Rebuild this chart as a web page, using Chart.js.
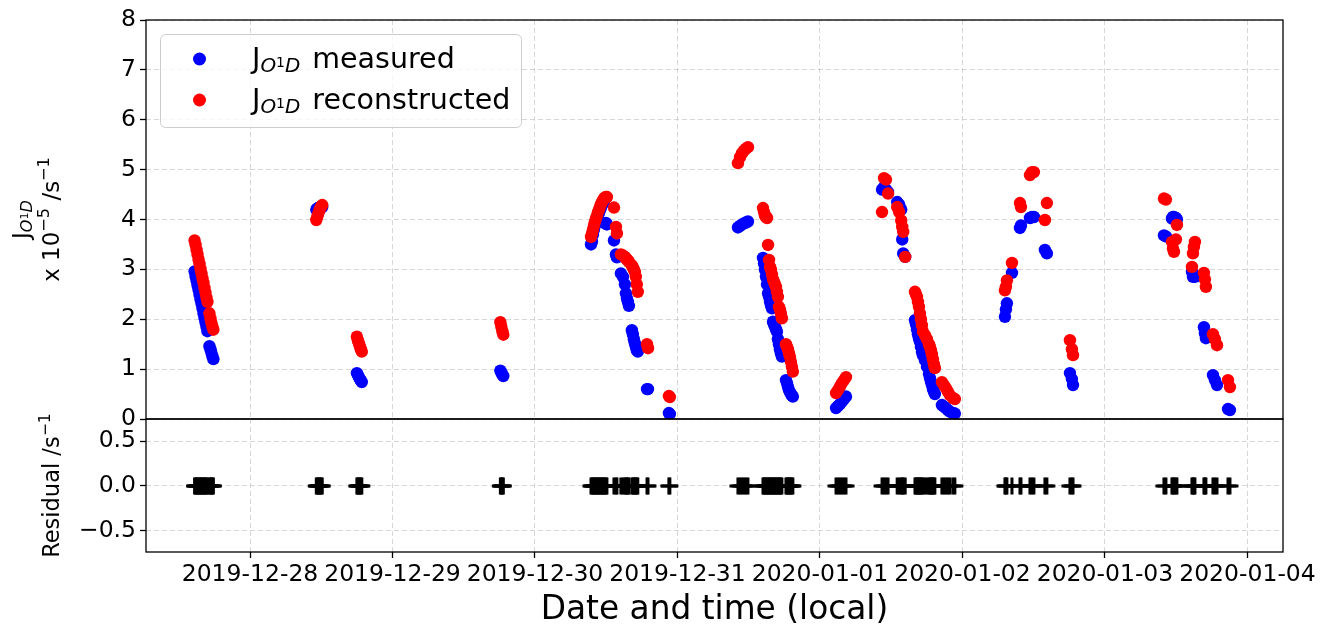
<!DOCTYPE html>
<html>
<head>
<meta charset="utf-8">
<script src="https://cdn.jsdelivr.net/npm/chart.js@4/dist/chart.umd.min.js"></script>
<style>
  html, body { margin: 0; padding: 0; background: #fff; }
  #wrap { position: relative; width: 1322px; height: 630px; overflow: hidden; background: #fff; }
  #wrap canvas { position: absolute; left: 0; }
  #jChart { top: 0; }
  #resChart { top: 400px; }
</style>
</head>
<body>
<div id="wrap">
  <canvas id="jChart" width="1322" height="445"></canvas>
  <canvas id="resChart" width="1322" height="230"></canvas>
</div>
<script>
// Sample times (local) with measured and reconstructed J(O1D), in units of 1e-5 s^-1
const sampleTimes = [
  // 27 Dec
  '2019-12-27 14:40', '2019-12-27 14:50', '2019-12-27 15:00', '2019-12-27 15:10', '2019-12-27 15:20',
  '2019-12-27 15:30', '2019-12-27 15:40', '2019-12-27 15:50', '2019-12-27 16:00', '2019-12-27 16:10',
  '2019-12-27 16:20', '2019-12-27 16:30', '2019-12-27 16:40', '2019-12-27 16:50', '2019-12-27 17:10',
  '2019-12-27 17:20', '2019-12-27 17:30', '2019-12-27 17:40', '2019-12-27 17:50',
  // 28 Dec
  '2019-12-28 11:10', '2019-12-28 11:20', '2019-12-28 11:30', '2019-12-28 11:40', '2019-12-28 11:50',
  '2019-12-28 12:00', '2019-12-28 12:10',
  '2019-12-28 18:00', '2019-12-28 18:10', '2019-12-28 18:20', '2019-12-28 18:30', '2019-12-28 18:40',
  '2019-12-28 18:50',
  // 29 Dec
  '2019-12-29 18:10', '2019-12-29 18:20', '2019-12-29 18:30', '2019-12-29 18:40',
  // 30 Dec
  '2019-12-30 09:26', '2019-12-30 09:36', '2019-12-30 09:46', '2019-12-30 09:56', '2019-12-30 10:06',
  '2019-12-30 10:16', '2019-12-30 10:26', '2019-12-30 10:37', '2019-12-30 10:47', '2019-12-30 10:57',
  '2019-12-30 11:07', '2019-12-30 11:17', '2019-12-30 11:27', '2019-12-30 11:37', '2019-12-30 11:47',
  '2019-12-30 11:57', '2019-12-30 12:07',
  '2019-12-30 13:18', '2019-12-30 13:38', '2019-12-30 13:48',
  '2019-12-30 14:28', '2019-12-30 14:49', '2019-12-30 15:09', '2019-12-30 15:19', '2019-12-30 15:29',
  '2019-12-30 15:39', '2019-12-30 15:49',
  '2019-12-30 16:19', '2019-12-30 16:29', '2019-12-30 16:39', '2019-12-30 16:49', '2019-12-30 16:59',
  '2019-12-30 17:09', '2019-12-30 17:19',
  '2019-12-30 18:52', '2019-12-30 19:02',
  '2019-12-30 22:33', '2019-12-30 22:43',
  // 31 Dec
  '2019-12-31 10:11', '2019-12-31 10:32', '2019-12-31 10:52', '2019-12-31 11:12', '2019-12-31 11:32',
  '2019-12-31 11:52',
  '2019-12-31 14:24', '2019-12-31 14:34', '2019-12-31 14:44', '2019-12-31 14:54', '2019-12-31 15:05',
  '2019-12-31 15:15', '2019-12-31 15:25', '2019-12-31 15:35', '2019-12-31 15:45', '2019-12-31 15:55',
  '2019-12-31 16:05', '2019-12-31 16:15', '2019-12-31 16:25', '2019-12-31 16:35', '2019-12-31 16:45',
  '2019-12-31 16:55', '2019-12-31 17:05', '2019-12-31 17:15', '2019-12-31 17:25', '2019-12-31 17:35',
  '2019-12-31 18:16', '2019-12-31 18:26', '2019-12-31 18:36', '2019-12-31 18:46', '2019-12-31 18:56',
  '2019-12-31 19:06', '2019-12-31 19:16', '2019-12-31 19:26',
  // 1 Jan
  '2020-01-01 02:42', '2020-01-01 03:02', '2020-01-01 03:22', '2020-01-01 03:42', '2020-01-01 04:03',
  '2020-01-01 04:23',
  '2020-01-01 10:27', '2020-01-01 10:47', '2020-01-01 11:07', '2020-01-01 11:28', '2020-01-01 13:00',
  '2020-01-01 13:20', '2020-01-01 13:41', '2020-01-01 13:51', '2020-01-01 14:01', '2020-01-01 14:21',
  '2020-01-01 16:00', '2020-01-01 16:10', '2020-01-01 16:20', '2020-01-01 16:30', '2020-01-01 16:40',
  '2020-01-01 16:50', '2020-01-01 17:00', '2020-01-01 17:10', '2020-01-01 17:20', '2020-01-01 17:41',
  '2020-01-01 18:01', '2020-01-01 18:21', '2020-01-01 18:31', '2020-01-01 18:41', '2020-01-01 18:51',
  '2020-01-01 19:01', '2020-01-01 19:11', '2020-01-01 19:21',
  '2020-01-01 20:32', '2020-01-01 20:52', '2020-01-01 21:12', '2020-01-01 21:32', '2020-01-01 21:52',
  '2020-01-01 22:23', '2020-01-01 22:43',
  // 2 Jan
  '2020-01-02 07:09', '2020-01-02 07:19', '2020-01-02 07:29', '2020-01-02 08:20', '2020-01-02 09:41',
  '2020-01-02 09:51', '2020-01-02 11:22', '2020-01-02 11:42', '2020-01-02 12:02', '2020-01-02 13:53',
  '2020-01-02 14:13', '2020-01-02 18:06', '2020-01-02 18:26', '2020-01-02 18:37',
  // 3 Jan
  '2020-01-03 09:56', '2020-01-03 10:16', '2020-01-03 11:17', '2020-01-03 11:27', '2020-01-03 11:37',
  '2020-01-03 11:57', '2020-01-03 12:07', '2020-01-03 14:39', '2020-01-03 14:49', '2020-01-03 14:59',
  '2020-01-03 15:09', '2020-01-03 16:40', '2020-01-03 16:50', '2020-01-03 17:00', '2020-01-03 18:11',
  '2020-01-03 18:31', '2020-01-03 18:52', '2020-01-03 20:43', '2020-01-03 21:03'
];

const measured = [
  2.96, 2.86, 2.77, 2.68, 2.59, 2.49, 2.40, 2.31, 2.22, 2.12, 2.03, 1.94, 1.85, 1.76, 1.46, 1.40, 1.33, 1.26, 1.20,
  4.20, 4.22, 4.23, 4.24, 4.25, 4.26, 4.25,
  0.92, 0.88, 0.84, 0.80, 0.77, 0.74,
  0.97, 0.93, 0.89, 0.86,
  3.50, 3.56, 3.70, 3.80, 3.88, 3.95, 4.00, 4.08, 4.13, 4.19, 4.24, 4.29, 4.33, 4.36, 3.92, 3.93, 3.90,
  3.58, 3.30, 3.24,
  2.92, 2.85, 2.70, 2.52, 2.42, 2.35, 2.27,
  1.78, 1.70, 1.60, 1.52, 1.45, 1.38, 1.35,
  0.60, 0.60,
  0.12, 0.10,
  3.84, 3.87, 3.90, 3.92, 3.94, 3.96,
  3.23, 3.12, 2.99, 2.85, 2.70, 2.52, 2.45, 2.35, 2.28, 2.22, 1.95, 1.90, 1.85, 1.80, 1.75, 1.60, 1.50, 1.40, 1.32, 1.25,
  0.78, 0.72, 0.65, 0.58, 0.54, 0.50, 0.47, 0.45,
  0.22, 0.26, 0.30, 0.35, 0.40, 0.45,
  4.60, 4.65, 4.60, 4.55, 4.35, 4.30, 4.20, 3.60, 3.32, 3.25,
  1.98, 1.90, 1.80, 1.70, 1.62, 1.55, 1.45, 1.35, 1.28, 1.18, 1.05, 0.90, 0.82, 0.75, 0.68, 0.60, 0.55, 0.50,
  0.28, 0.25, 0.22, 0.18, 0.15, 0.12, 0.11,
  2.05, 2.20, 2.32, 2.93, 3.83, 3.88, 4.03, 4.05, 4.05, 3.39, 3.32, 0.92, 0.80, 0.68,
  3.68, 3.66, 4.02, 4.05, 4.05, 4.03, 4.00, 2.95, 2.85, 2.88, 2.85, 1.84, 1.72, 1.62, 0.88, 0.78, 0.68, 0.20, 0.18
];

const reconstructed = [
  3.58, 3.49, 3.39, 3.30, 3.20, 3.11, 3.01, 2.92, 2.82, 2.73, 2.63, 2.54, 2.44, 2.35, 2.12, 2.02, 1.93, 1.85, 1.79,
  3.99, 4.06, 4.12, 4.18, 4.23, 4.26, 4.29,
  1.65, 1.58, 1.52, 1.46, 1.40, 1.35,
  1.94, 1.85, 1.76, 1.69,
  3.65, 3.72, 3.80, 3.88, 3.95, 4.02, 4.08, 4.15, 4.20, 4.26, 4.31, 4.35, 4.39, 4.42, 4.44, 4.45, 4.45,
  4.24, 3.85, 3.72,
  3.30, 3.28, 3.25, 3.22, 3.20, 3.18, 3.15,
  3.08, 3.04, 3.00, 2.95, 2.85, 2.70, 2.55,
  1.50, 1.42,
  0.46, 0.44,
  5.13, 5.25, 5.33, 5.38, 5.42, 5.45,
  4.23, 4.15, 4.08, 4.05, 4.03, 3.49, 3.19, 3.05, 2.99, 2.90, 2.80, 2.75, 2.70, 2.65, 2.55, 2.45, 2.25, 2.20, 2.12, 2.02,
  1.50, 1.45, 1.40, 1.32, 1.25, 1.15, 1.05, 0.95,
  0.52, 0.58, 0.65, 0.72, 0.78, 0.84,
  4.15, 4.83, 4.80, 4.52, 4.25, 4.15, 3.98, 3.85, 3.75, 3.25,
  2.55, 2.50, 2.45, 2.35, 2.25, 2.12, 2.00, 1.88, 1.75, 1.68, 1.60, 1.50, 1.45, 1.38, 1.30, 1.20, 1.10, 1.02,
  0.74, 0.68, 0.62, 0.55, 0.48, 0.42, 0.40,
  2.58, 2.65, 2.78, 3.13, 4.33, 4.25, 4.89, 4.95, 4.95, 3.99, 4.33, 1.58, 1.40, 1.28,
  4.42, 4.40, 3.55, 3.42, 3.35, 3.60, 3.89, 3.05, 3.32, 3.45, 3.55, 2.93, 2.80, 2.65, 1.70, 1.60, 1.48, 0.78, 0.64
];

const dayTickLabels = ['2019-12-28', '2019-12-29', '2019-12-30', '2019-12-31',
                       '2020-01-01', '2020-01-02', '2020-01-03', '2020-01-04'];
const timeRange = ['2019-12-27 06:29', '2020-01-04 05:59'];
const jTicks = [0, 1, 2, 3, 4, 5, 6, 7, 8];
const residualTicks = [-0.5, 0.0, 0.5];
const residualTickLabels = ['\u22120.5', '0.0', '0.5'];

// ---------------------------------------------------------------------------
const FONT = 'DejaVu Sans';
const TICK_SIZE = 23.5;
Chart.defaults.font.family = FONT;
Chart.defaults.color = '#000';

const toMs = s => {
  const [d, hm] = s.split(' ');
  const [Y, M, D] = d.split('-').map(Number);
  const [h, m] = (hm || '00:00').split(':').map(Number);
  return Date.UTC(Y, M - 1, D, h, m);
};

const xs = sampleTimes.map(toMs);
const dayTicks = dayTickLabels.map(toMs);
const measuredPts = xs.map((x, i) => ({ x, y: measured[i] }));
const reconstructedPts = xs.map((x, i) => ({ x, y: reconstructed[i] }));
// residual in s^-1: difference of the two series scaled back from 1e-5 s^-1
const residualPts = xs.map((x, i) => ({ x, y: (measured[i] - reconstructed[i]) * 1e-5 }));

const gridColor = 'rgba(176,176,176,0.5)';

function timeAxis(withLabels) {
  return {
    type: 'linear',
    min: toMs(timeRange[0]),
    max: toMs(timeRange[1]),
    afterBuildTicks: ax => { ax.ticks = dayTicks.map(v => ({ value: v })); },
    afterFit: withLabels ? (s => { s.height = 78; }) : (s => { s.height = 0; }),
    ticks: {
      display: withLabels, autoSkip: false, maxRotation: 0, minRotation: 0,
      padding: 3, color: '#000', font: { family: FONT, size: TICK_SIZE },
      callback: (v, i) => dayTickLabels[i]
    },
    grid: {
      color: gridColor, lineWidth: 1, drawTicks: withLabels,
      tickLength: 6, tickColor: '#000', tickWidth: 1.3, tickBorderDash: []
    },
    border: { display: false, dash: [5, 3] },
    title: withLabels ? {
      display: true, text: 'Date and time (local)', color: '#000',
      font: { family: FONT, size: 32.8 }, padding: { top: 0, bottom: 0 }
    } : { display: false }
  };
}

function valueAxis(min, max, ticks, labels) {
  return {
    type: 'linear', min, max,
    afterBuildTicks: ax => { ax.ticks = ticks.map(v => ({ value: v })); },
    afterFit: s => { s.width = 146; },
    ticks: {
      padding: 4, color: '#000', font: { family: FONT, size: TICK_SIZE },
      callback: (v, i) => labels[i]
    },
    grid: {
      color: gridColor, lineWidth: 1, drawTicks: true,
      tickLength: 6, tickColor: '#000', tickWidth: 1.3, tickBorderDash: []
    },
    border: { display: false, dash: [5, 3] }
  };
}

// ---- rich text helpers (subscripts / superscripts) ----
const fontOf = p => (p.it ? 'italic ' : '') + p.size + 'px "' + FONT + '"';
function richWidth(ctx, parts) {
  let w = 0;
  for (const p of parts) { ctx.font = fontOf(p); w += ctx.measureText(p.t).width; }
  return w;
}
function drawRich(ctx, parts, x, y) {
  for (const p of parts) {
    ctx.font = fontOf(p);
    ctx.fillText(p.t, x, y + (p.dy || 0));
    x += ctx.measureText(p.t).width;
  }
  return x;
}
function drawVertical(ctx, parts, baselineX, centerY) {
  const w = richWidth(ctx, parts);
  ctx.save();
  ctx.translate(baselineX, centerY);
  ctx.rotate(-Math.PI / 2);
  ctx.textAlign = 'left';
  ctx.textBaseline = 'alphabetic';
  ctx.fillStyle = '#000';
  drawRich(ctx, parts, -w / 2, 0);
  ctx.restore();
}
const jSymbol = S => [
  { t: 'J', size: S },
  { t: 'O', size: 0.7 * S, it: true, dy: 0.15 * S },
  { t: '1', size: 0.49 * S, dy: -0.03 * S },
  { t: 'D', size: 0.7 * S, it: true, dy: 0.15 * S }
];
const sup = (t, S) => ({ t, size: 0.7 * S, dy: -0.42 * S });

const framePlugin = {
  id: 'frame',
  afterDraw(chart) {
    const { ctx, chartArea: a } = chart;
    ctx.save();
    ctx.strokeStyle = '#000';
    ctx.lineWidth = 1.3;
    ctx.strokeRect(a.left, a.top, a.right - a.left, a.bottom - a.top);
    ctx.restore();
  }
};

const jTitlePlugin = {
  id: 'jTitle',
  afterDraw(chart) {
    const ctx = chart.ctx;
    const a = chart.chartArea;
    const cy = (a.top + a.bottom) / 2;
    const S = 23;
    drawVertical(ctx, jSymbol(S), 29, cy);
    drawVertical(ctx, [
      { t: 'x 10', size: S }, sup('\u22125', S), { t: ' /s', size: S }, sup('\u22121', S)
    ], 59, cy);
  }
};

const legendPlugin = {
  id: 'jLegend',
  afterDraw(chart) {
    const ctx = chart.ctx;
    ctx.save();
    ctx.beginPath();
    ctx.roundRect(160.5, 34.5, 361, 93, 5);
    ctx.fillStyle = 'rgba(255,255,255,0.8)';
    ctx.fill();
    ctx.strokeStyle = '#cccccc';
    ctx.lineWidth = 1;
    ctx.stroke();
    const S = 28.5;
    const rows = [
      { color: '#0000ff', text: 'measured', y: 68 },
      { color: '#ff0000', text: 'reconstructed', y: 109 }
    ];
    ctx.textAlign = 'left';
    ctx.textBaseline = 'alphabetic';
    for (const r of rows) {
      ctx.beginPath();
      ctx.arc(199.5, r.y - 9, 6.5, 0, Math.PI * 2);
      ctx.fillStyle = r.color;
      ctx.fill();
      ctx.fillStyle = '#000';
      const end = drawRich(ctx, jSymbol(S), 252, r.y);
      drawRich(ctx, [{ t: r.text, size: S }], end + 12, r.y);
    }
    ctx.restore();
  }
};

const residualTitlePlugin = {
  id: 'resTitle',
  afterDraw(chart) {
    const ctx = chart.ctx;
    const a = chart.chartArea;
    const S = 22.5;
    drawVertical(ctx, [{ t: 'Residual /s', size: S }, sup('\u22121', S)], 59, (a.top + a.bottom) / 2);
  }
};

const common = {
  responsive: false,
  animation: false,
  events: [],
  plugins: { legend: { display: false }, tooltip: { enabled: false } }
};

new Chart(document.getElementById('jChart'), {
  type: 'scatter',
  data: {
    datasets: [
      { label: 'measured', data: measuredPts, backgroundColor: '#0000ff', borderWidth: 0,
        pointRadius: 6.2, order: 2 },
      { label: 'reconstructed', data: reconstructedPts, backgroundColor: '#ff0000', borderWidth: 0,
        pointRadius: 6.2, order: 1 }
    ]
  },
  options: {
    ...common,
    layout: { padding: { left: 0, right: 39, top: 20, bottom: 26 } },
    scales: {
      x: timeAxis(false),
      y: valueAxis(0, 8, jTicks, jTicks.map(String))
    }
  },
  plugins: [framePlugin, jTitlePlugin, legendPlugin]
});

new Chart(document.getElementById('resChart'), {
  type: 'scatter',
  data: {
    datasets: [
      { label: 'residual', data: residualPts, pointStyle: 'cross', pointRadius: 8.5,
        borderColor: '#000', backgroundColor: '#000', borderWidth: 3 }
    ]
  },
  options: {
    ...common,
    layout: { padding: { left: 0, right: 39, top: 19, bottom: 0 } },
    scales: {
      x: timeAxis(true),
      y: valueAxis(-0.735, 0.745, residualTicks, residualTickLabels)
    }
  },
  plugins: [framePlugin, residualTitlePlugin]
});
</script>
</body>
</html>
